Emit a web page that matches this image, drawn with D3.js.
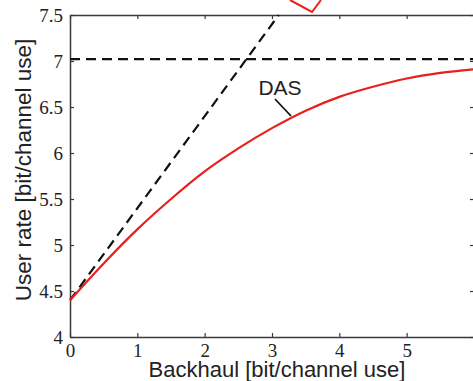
<!DOCTYPE html>
<html>
<head>
<meta charset="utf-8">
<script src="https://cdn.jsdelivr.net/npm/d3@7"></script>
<style>
  body { margin: 0; background: #fff; }
</style>
</head>
<body>
<svg id="chart" width="473" height="381"></svg>
<script>
// dados
const backhaul = [0, 0.5, 1, 1.5, 2, 2.5, 3, 3.5, 4, 4.5, 5, 5.5, 6];
const dasRate = [4.4, 4.8, 5.17, 5.5, 5.8, 6.05, 6.27, 6.46, 6.61, 6.72, 6.81, 6.87, 6.91];
const boundX = [0, 3.1];
const boundY = [4.4, 7.5];
const capRate = 7.02;
const xTicks = [0, 1, 2, 3, 4, 5, 6];
const xLabels = [0, 1, 2, 3, 4, 5];
const yTicks = [4, 4.5, 5, 5.5, 6, 6.5, 7, 7.5];

const svg = d3.select("#chart");
const margin = {left: 70, top: 15, right: 474, bottom: 337};

const x = d3.scaleLinear().domain([0, 6]).range([margin.left, margin.right]);
const y = d3.scaleLinear().domain([4, 7.5]).range([margin.bottom, margin.top]);

const sans = "Liberation Sans, Arial, sans-serif";
const serif = '"Liberation Serif", "Times New Roman", serif';

// eixos (ticks para dentro)
const axisColor = "#3a3a3a";
const gx = svg.append("g")
    .attr("transform", `translate(0,${margin.bottom})`)
    .call(d3.axisBottom(x).tickValues(xTicks).tickSizeInner(-4).tickSizeOuter(0).tickPadding(7)
        .tickFormat(d => xLabels.includes(d) ? d3.format("d")(d) : ""));
const gy = svg.append("g")
    .attr("transform", `translate(${margin.left},0)`)
    .call(d3.axisLeft(y).tickValues(yTicks).tickSizeInner(-4).tickSizeOuter(0).tickPadding(7)
        .tickFormat(d => d % 1 === 0 ? d3.format("d")(d) : d3.format(".1f")(d)));
const gt = svg.append("g")
    .attr("transform", `translate(0,${margin.top})`)
    .call(d3.axisTop(x).tickValues(xTicks).tickSizeInner(-4).tickSizeOuter(0).tickFormat(""));
const gr = svg.append("g")
    .attr("transform", `translate(${margin.right},0)`)
    .call(d3.axisRight(y).tickValues(yTicks).tickSizeInner(-4).tickSizeOuter(0).tickFormat(""));

[gx, gy, gt, gr].forEach(g => {
    g.attr("font-family", serif).attr("font-size", 19);
    g.selectAll(".domain").attr("stroke", axisColor).attr("stroke-width", 1.5);
    g.selectAll(".tick line").attr("stroke", axisColor).attr("stroke-width", 1.2);
    g.selectAll(".tick text")
        .attr("fill", "#222")
        .style("font-family", serif)
        .style("font-size", "19px");
});

// linha tracejada horizontal
svg.append("line")
    .attr("x1", x(0)).attr("x2", x(6))
    .attr("y1", y(capRate)).attr("y2", y(capRate))
    .attr("stroke", "#111").attr("stroke-width", 2.2)
    .attr("stroke-dasharray", "10,6");

// linha tracejada diagonal
svg.append("path")
    .datum(boundX.map((d, i) => [d, boundY[i]]))
    .attr("fill", "none")
    .attr("stroke", "#111").attr("stroke-width", 2.2)
    .attr("stroke-dasharray", "10,6")
    .attr("d", d3.line().x(d => x(d[0])).y(d => y(d[1])));

// curva DAS
svg.append("path")
    .datum(backhaul.map((d, i) => [d, dasRate[i]]))
    .attr("fill", "none")
    .attr("stroke", "#e8201c").attr("stroke-width", 2.2)
    .attr("d", d3.line().curve(d3.curveMonotoneX).x(d => x(d[0])).y(d => y(d[1])));

// rótulo DAS com linha
svg.append("line")
    .attr("x1", 275).attr("y1", 99).attr("x2", 291).attr("y2", 116)
    .attr("stroke", "#111").attr("stroke-width", 1.8);
svg.append("text")
    .attr("x", 280).attr("y", 95)
    .attr("text-anchor", "middle")
    .attr("font-family", sans)
    .attr("font-size", 21)
    .attr("fill", "#222")
    .text("DAS");

// pedaço vermelho no topo (recortado)
svg.append("path")
    .attr("d", "M290,0 L312,12 L321,0")
    .attr("fill", "none")
    .attr("stroke", "#e8201c").attr("stroke-width", 2);

// rótulos dos eixos
svg.append("text")
    .attr("x", 277).attr("y", 377)
    .attr("text-anchor", "middle")
    .attr("font-family", sans)
    .attr("font-size", 22)
    .attr("fill", "#222")
    .text("Backhaul [bit/channel use]");

svg.append("text")
    .attr("transform", "rotate(-90)")
    .attr("x", -170).attr("y", 31)
    .attr("text-anchor", "middle")
    .attr("font-family", sans)
    .attr("font-size", 22.5)
    .attr("fill", "#222")
    .text("User rate [bit/channel use]");
</script>
</body>
</html>
